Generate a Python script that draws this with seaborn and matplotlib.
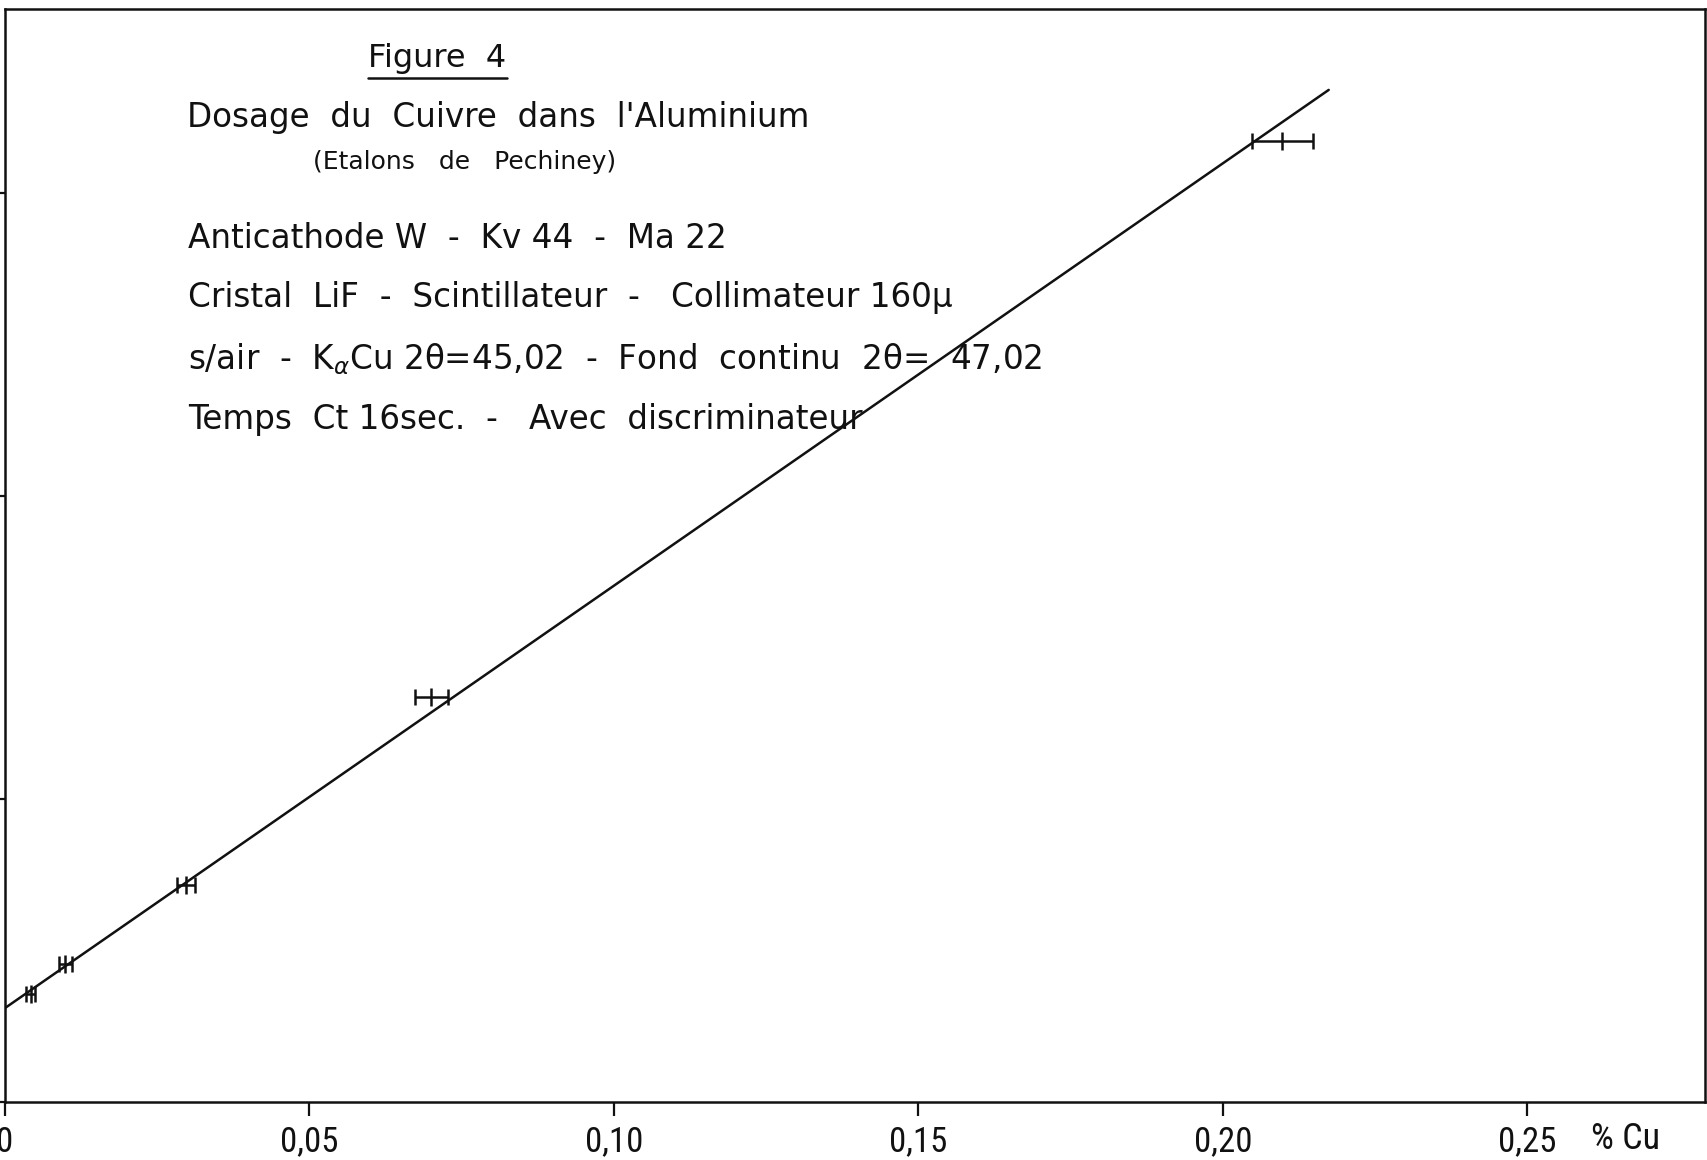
import matplotlib
matplotlib.use("Agg")
import matplotlib.pyplot as plt
from matplotlib import font_manager
import seaborn as sns
import pandas as pd

# Calibration standards: copper content (%) and measured intensity (arbitrary units)
cu_percent = [0.0042, 0.0099, 0.0297, 0.0700, 0.2098]
cu_err = [0.0007, 0.0011, 0.0015, 0.0027, 0.0050]
intensity = [0.356, 0.455, 0.715, 1.335, 3.172]

# Calibration line end points
line_x = [0.0, 0.2174]
line_y = [0.31, 3.34]

x_ticks = [0.0, 0.05, 0.10, 0.15, 0.20, 0.25]
x_tick_labels = ["0", "0,05", "0,10", "0,15", "0,20", "0,25"]
y_ticks = [0, 1, 2, 3]

sns.set_theme(style="white")
installed = {f.name for f in font_manager.fontManager.ttflist}
narrow = next((n for n in ["Liberation Sans Narrow", "Roboto Condensed", "DejaVu Sans"]
               if n in installed), "DejaVu Sans")
plt.rcParams["font.family"] = ["DejaVu Sans"]
plt.rcParams["mathtext.fontset"] = "dejavusans"

INK = "#111111"
W, H = 1708, 1160
fig = plt.figure(figsize=(W / 100, H / 100), dpi=100, facecolor="white")
left, right, top, bottom = 5, 1705, 9, 1102
ax = fig.add_axes([left / W, (H - bottom) / H, (right - left) / W, (bottom - top) / H])
ax.set_facecolor("white")

pts = pd.DataFrame({"cu": cu_percent, "err": cu_err, "I": intensity})
fit = pd.DataFrame({"x": line_x, "y": line_y})

sns.lineplot(data=fit, x="x", y="y", ax=ax, color=INK, linewidth=1.8)
ax.errorbar(pts["cu"], pts["I"], xerr=pts["err"], fmt="none", ecolor=INK,
            elinewidth=1.8, capsize=5.5, capthick=1.8)
sns.scatterplot(data=pts, x="cu", y="I", ax=ax, marker="|", s=150, color=INK,
                linewidth=1.8)

ax.set_xlim(0, 0.2792)
ax.set_ylim(0, 3.607)
ax.set_xticks(x_ticks)
ax.set_xticklabels(x_tick_labels, fontfamily=narrow, fontsize=25)
ax.set_yticks(y_ticks)
ax.set_yticklabels([])
ax.set_xlabel("")
ax.set_ylabel("")
ax.tick_params(axis="x", direction="out", length=10, width=1.6, color=INK,
               pad=7, labelcolor=INK, bottom=True)
ax.tick_params(axis="y", direction="out", length=6, width=1.6, color=INK, left=True)
for s in ax.spines.values():
    s.set_visible(True)
    s.set_color(INK)
    s.set_linewidth(1.8)

# unit label at the end of the x axis
fig.text(1626 / W, 1 - 1139 / H, "% Cu", fontfamily=narrow, fontsize=26,
         color=INK, ha="center", va="center")

# title block
def ftext(px, py, s, size, ha="left"):
    fig.text(px / W, 1 - py / H, s, fontsize=size, color=INK, ha=ha, va="center")

ftext(437, 58, "Figure  4", 23, ha="center")
fig.add_artist(plt.Line2D([368 / W, 507 / W], [1 - 78 / H, 1 - 78 / H],
                          color=INK, linewidth=1.8))
ftext(187, 117, "Dosage  du  Cuivre  dans  l'Aluminium", 23.5)
ftext(313, 162, "(Etalons   de   Pechiney)", 18)
ftext(188, 239, "Anticathode W  -  Kv 44  -  Ma 22", 23.5)
ftext(188, 298, "Cristal  LiF  -  Scintillateur  -   Collimateur 160µ", 23.5)
ftext(188, 359, r"s/air  -  K$_\alpha$Cu 2θ=45,02  -  Fond  continu  2θ=  47,02", 23.5)
ftext(188, 420, "Temps  Ct 16sec.  -   Avec  discriminateur", 23.5)

fig.savefig("out.png", dpi=100, facecolor="white")
